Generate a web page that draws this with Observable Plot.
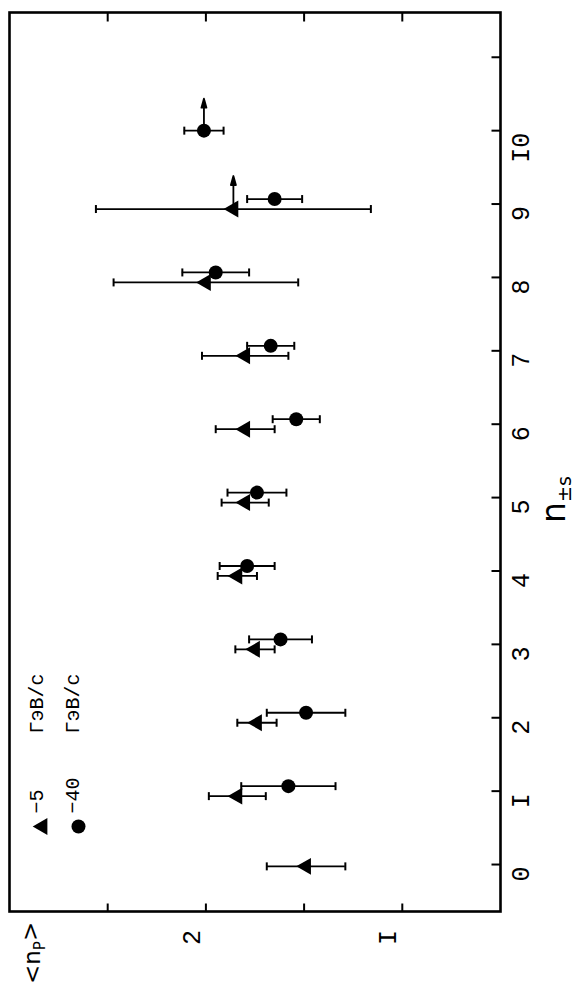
<!DOCTYPE html>
<html>
<head>
<meta charset="utf-8">
<script src="https://cdn.jsdelivr.net/npm/d3@7"></script>
<script src="https://cdn.jsdelivr.net/npm/@observablehq/plot@0.6"></script>
<style>
  html, body { margin: 0; padding: 0; background: #fff; }
  svg { display: block; }
</style>
</head>
<body>
<div id="chart"></div>
<script>
// ---- data ----
// series A: −5 ГэВ/с (triangles)
const triN   = [0, 1, 2, 3, 4, 5, 6, 7, 8, 9];
const triVal = [1.49, 1.84, 1.74, 1.75, 1.84, 1.80, 1.80, 1.80, 2.00, 1.86];
const triErr = [0.20, 0.145, 0.10, 0.10, 0.10, 0.12, 0.15, 0.22, 0.47, 0.70];
// series B: −40 ГэВ/с (circles)
const circN   = [1, 2, 3, 4, 5, 6, 7, 8, 9, 10];
const circVal = [1.58, 1.49, 1.62, 1.79, 1.74, 1.54, 1.67, 1.95, 1.65, 2.01];
const circErr = [0.24, 0.20, 0.16, 0.14, 0.15, 0.12, 0.12, 0.17, 0.14, 0.10];
// points marked with an "at least" arrow (last bin n ≥ …)
const triArrowN  = [9];
const circArrowN = [10];

// ticks
const nTicks      = [0, 1, 2, 3, 4, 5, 6, 7, 8, 9, 10, 11];
const nLabelTicks = [0, 1, 2, 3, 4, 5, 6, 7, 8, 9, 10];
const nTickLabels = ["0", "I", "2", "3", "4", "5", "6", "7", "8", "9", "I0"];
const npTicks      = [2.5, 2.0, 1.5, 1.0];
const npLabelTicks = [2.0, 1.0];
const npTickLabels = ["2", "I"];

// legend
const legendLabels = ["−5", "−40"];
const legendUnit = "ГэВ/с";

// ---- tables ----
const triSet = new Set(triN), circSet = new Set(circN);
const shift = 0.068; // small vertical separation of the two series in shared bins
const tri = triN.map((n, i) => ({n, v: triVal[i], e: triErr[i], y: n - (circSet.has(n) ? shift : 0.025)}));
const circ = circN.map((n, i) => ({n, v: circVal[i], e: circErr[i], y: n + (triSet.has(n) ? shift : 0)}));
const triArrows = tri.filter(d => triArrowN.includes(d.n));
const circArrows = circ.filter(d => circArrowN.includes(d.n));

// ---- custom shapes ----
const capV = {draw(c) { c.moveTo(0, -4); c.lineTo(0, 4); }};
const tickLeft = {draw(c) { c.moveTo(0, 0); c.lineTo(-9, 0); }};
const tickUp = {draw(c) { c.moveTo(0, 0); c.lineTo(0, -8); }};
const tickDown = {draw(c) { c.moveTo(0, 0); c.lineTo(0, 9); }};
const arrowShape = {draw(c, l) {
  c.moveTo(0, 0); c.lineTo(0, -l);
  c.moveTo(-2.5, -l + 9); c.lineTo(0, -l); c.lineTo(2.5, -l + 9); c.closePath();
}};

const W = 582, H = 985, mL = 9, mR = 82, mT = 12, mB = 74;
const mono = "Liberation Mono, DejaVu Sans Mono, monospace";

const chart = Plot.plot({
  width: W, height: H,
  marginLeft: mL, marginRight: mR, marginTop: mT, marginBottom: mB,
  style: {background: "white", color: "black"},
  x: {domain: [3.0, 0.5], axis: null},
  y: {domain: [-0.64, 11.61], axis: null},
  marks: [
    // axis ticks (inward)
    Plot.dot(nTicks, {y: d => d, frameAnchor: "right", symbol: tickLeft, r: 4, fill: "none", stroke: "black", strokeWidth: 2}),
    Plot.dot(npTicks, {x: d => d, frameAnchor: "bottom", symbol: tickUp, r: 4, fill: "none", stroke: "black", strokeWidth: 2}),
    Plot.dot(npTicks, {x: d => d, frameAnchor: "top", symbol: tickDown, r: 4, fill: "none", stroke: "black", strokeWidth: 2}),
    Plot.frame({stroke: "black", strokeWidth: 2.6}),
    // tick labels
    Plot.text(nLabelTicks, {y: d => d, text: (d, i) => nTickLabels[i], frameAnchor: "right", dx: 20, dy: 2,
      rotate: -90, fontSize: 25, fontFamily: mono, fill: "black"}),
    Plot.text(npLabelTicks, {x: d => d, text: (d, i) => npTickLabels[i], frameAnchor: "bottom", dx: -6, dy: 26,
      rotate: -90, fontSize: 25, fontFamily: mono, fill: "black"}),
    // error bars
    Plot.ruleY(tri, {y: "y", x1: d => d.v - d.e, x2: d => d.v + d.e, stroke: "black", strokeWidth: 1.8}),
    Plot.ruleY(circ, {y: "y", x1: d => d.v - d.e, x2: d => d.v + d.e, stroke: "black", strokeWidth: 1.8}),
    Plot.dot(tri, {x: d => d.v - d.e, y: "y", symbol: capV, r: 4, fill: "none", stroke: "black", strokeWidth: 2}),
    Plot.dot(tri, {x: d => d.v + d.e, y: "y", symbol: capV, r: 4, fill: "none", stroke: "black", strokeWidth: 2}),
    Plot.dot(circ, {x: d => d.v - d.e, y: "y", symbol: capV, r: 4, fill: "none", stroke: "black", strokeWidth: 2}),
    Plot.dot(circ, {x: d => d.v + d.e, y: "y", symbol: capV, r: 4, fill: "none", stroke: "black", strokeWidth: 2}),
    // arrows (lower limits)
    Plot.vector(triArrows, {x: "v", y: "y", length: 33, rotate: 0, anchor: "start", shape: arrowShape,
      stroke: "black", fill: "black", strokeWidth: 1.8}),
    Plot.vector(circArrows, {x: "v", y: "y", length: 32, rotate: 0, anchor: "start", shape: arrowShape,
      stroke: "black", fill: "black", strokeWidth: 1.8}),
    // markers
    Plot.dot(tri, {x: "v", y: "y", symbol: "triangle", r: 6.3, rotate: -90, fill: "black", stroke: "none"}),
    Plot.dot(circ, {x: "v", y: "y", symbol: "circle", r: 7, fill: "black", stroke: "none"}),
    // legend
    Plot.dot([legendLabels[0]], {frameAnchor: "bottom-left", dx: 33, dy: -85, symbol: "triangle", r: 6.3, rotate: -90, fill: "black"}),
    Plot.dot([legendLabels[1]], {frameAnchor: "bottom-left", dx: 69, dy: -85, symbol: "circle", r: 7, fill: "black"}),
    Plot.text([legendLabels[0]], {text: d => d, frameAnchor: "bottom-left", dx: 33, dy: -98, rotate: -90,
      textAnchor: "start", fontSize: 20, fontFamily: mono, fill: "black"}),
    Plot.text([legendLabels[1]], {text: d => d, frameAnchor: "bottom-left", dx: 69, dy: -98, rotate: -90,
      textAnchor: "start", fontSize: 20, fontFamily: mono, fill: "black"}),
    Plot.text([legendUnit], {text: d => d, frameAnchor: "bottom-left", dx: 33, dy: -178, rotate: -90,
      textAnchor: "start", fontSize: 20, fontFamily: mono, fill: "black"}),
    Plot.text([legendUnit], {text: d => d, frameAnchor: "bottom-left", dx: 69, dy: -178, rotate: -90,
      textAnchor: "start", fontSize: 20, fontFamily: mono, fill: "black"})
  ]
});

// axis titles (rotated, with subscripts)
const svg = d3.select(chart);
const nTitle = svg.append("text")
  .attr("transform", `translate(${W - mR + 65},${(mT + H - mB) / 2 + 38}) rotate(-90)`)
  .attr("text-anchor", "middle")
  .attr("font-family", "DejaVu Sans, sans-serif")
  .attr("fill", "black");
nTitle.append("tspan").attr("font-size", 33).text("n");
nTitle.append("tspan").attr("font-size", 19).attr("dy", "0.3em").text("±s");

const npTitle = svg.append("text")
  .attr("transform", `translate(${mL + 31},${H - 1}) rotate(-90)`)
  .attr("text-anchor", "start")
  .attr("font-family", "DejaVu Sans, sans-serif")
  .attr("fill", "black");
npTitle.append("tspan").attr("font-size", 23).text("<n");
npTitle.append("tspan").attr("font-size", 15).attr("dy", "0.3em").text("P");
npTitle.append("tspan").attr("font-size", 23).attr("dy", "-0.3em").text(">");

document.getElementById("chart").appendChild(chart);
</script>
</body>
</html>
